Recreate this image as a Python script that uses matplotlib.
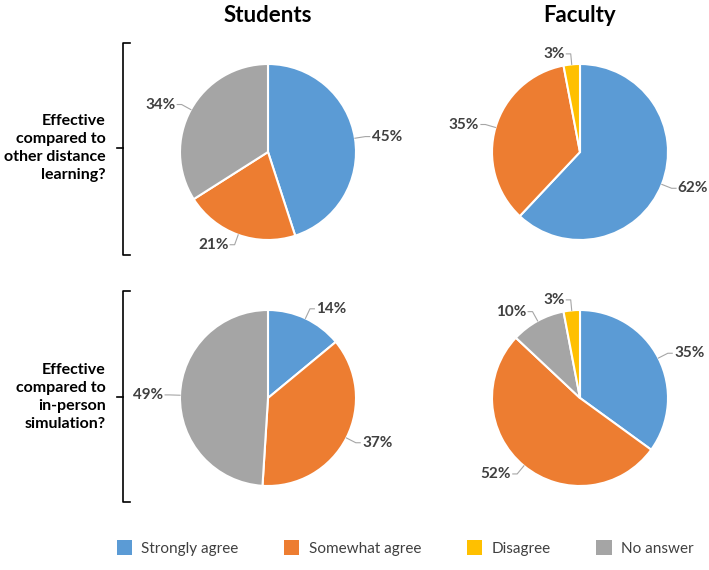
import numpy as np
import matplotlib
matplotlib.use("Agg")
import matplotlib.pyplot as plt
from matplotlib.patches import Patch
from matplotlib.lines import Line2D

plt.rcParams['font.family'] = ['Lato', 'DejaVu Sans']

# data (drawing order clockwise from 12 o'clock)
categories = ['Strongly agree', 'Somewhat agree', 'No answer', 'Disagree']
colors = {'Strongly agree': '#5b9bd5', 'Somewhat agree': '#ed7d31',
          'Disagree': '#ffc000', 'No answer': '#a5a5a5'}
legend_order = ['Strongly agree', 'Somewhat agree', 'Disagree', 'No answer']

groups = ['Students', 'Faculty']
questions = ['Effective\ncompared to\nother distance\nlearning?',
             'Effective\ncompared to\nin-person\nsimulation?']

students_distance = [45, 21, 34, 0]
faculty_distance = [62, 35, 0, 3]
students_inperson = [14, 37, 49, 0]
faculty_inperson = [35, 52, 10, 3]

values = [[students_distance, faculty_distance],
          [students_inperson, faculty_inperson]]

W, H = 709, 570
fig = plt.figure(figsize=(W / 100, H / 100), dpi=100)

R = 88          # pie radius in px
S = 150         # half-size of each pie axes in px
centers_x = [268, 580]
centers_y = [152, 398]
lim = S / R
txt_col = '#404040'
line_col = '#a6a6a6'


def draw_pie(ax, vals):
    vals = np.array(vals, dtype=float)
    keep = vals > 0
    v = vals[keep]
    cols = [colors[c] for c, k in zip(categories, keep) if k]
    wedges, _ = ax.pie(v, colors=cols, startangle=90, counterclock=False,
                       wedgeprops=dict(edgecolor='white', linewidth=1.5))
    for w, val in zip(wedges, v):
        mid = np.deg2rad((w.theta1 + w.theta2) / 2)
        c, s = np.cos(mid), np.sin(mid)
        p0 = (1.0 * c, 1.0 * s)
        p1 = (1.12 * c, 1.12 * s)
        side = 1 if c >= 0 else -1
        p2 = (p1[0] + side * 0.05, p1[1])
        ax.plot([p0[0], p1[0], p2[0]], [p0[1], p1[1], p2[1]],
                color=line_col, lw=0.8, clip_on=False)
        ax.text(p2[0] + side * 0.02, p2[1], f'{val:.0f}%',
                ha='left' if side > 0 else 'right', va='center',
                fontsize=11, fontweight='bold', color=txt_col, clip_on=False)
    ax.set_xlim(-lim, lim)
    ax.set_ylim(-lim, lim)
    ax.set_aspect('equal')
    ax.axis('off')


for i in range(2):
    for j in range(2):
        cx, cy = centers_x[j], centers_y[i]
        ax = fig.add_axes([(cx - S) / W, 1 - (cy + S) / H, 2 * S / W, 2 * S / H])
        draw_pie(ax, values[i][j])

# column titles
for j, g in enumerate(groups):
    fig.text(centers_x[j] / W, 1 - 16 / H, g, ha='center', va='center',
             fontsize=16, fontweight='bold', color='black')

# row labels with brackets
brackets = [(43, 255, 148), (291, 502, 397)]
for q, (top, bot, mid) in zip(questions, brackets):
    fig.text(106 / W, 1 - mid / H, q, ha='right', va='center', fontsize=11.5,
             fontweight='bold', color='black', linespacing=1.35)
    xs = np.array([130, 123, 123, 130]) / W
    ys = 1 - np.array([top, top, bot, bot]) / H
    fig.add_artist(Line2D(xs, ys, color='black', lw=1.2))
    fig.add_artist(Line2D([117 / W, 123 / W], [1 - mid / H, 1 - mid / H],
                          color='black', lw=1.2))

handles = [Patch(facecolor=colors[c], edgecolor='none') for c in legend_order]
fig.legend(handles, legend_order, loc='center', bbox_to_anchor=(405 / W, 1 - 548 / H),
           ncol=4, frameon=False, fontsize=11, handlelength=1.0, handleheight=1.1,
           columnspacing=3.0, handletextpad=0.6, labelcolor=txt_col)

fig.savefig('out.png', dpi=100, facecolor='white')
